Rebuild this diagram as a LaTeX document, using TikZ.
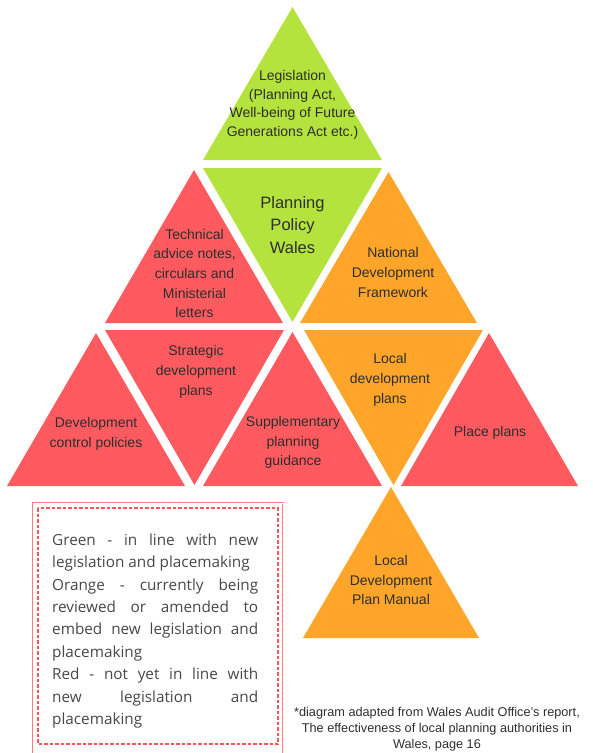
\documentclass[tikz,border=0pt]{standalone}
\usepackage{fontspec}
\setmainfont{Liberation Sans}
\newfontfamily\legendfont{Open Sans}
\usepackage{xcolor}
\definecolor{limegreen}{HTML}{B3E33C}
\definecolor{coral}{HTML}{FF5A5F}
\definecolor{amber}{HTML}{FFA52A}
\definecolor{inktext}{HTML}{2E2E2E}
\definecolor{legendgrey}{HTML}{474747}
\tikzstyle{greenTri}=[fill=limegreen]
\tikzstyle{orangeTri}=[fill=amber]
\tikzstyle{redTri}=[fill=coral]
\tikzstyle{tritext}=[align=center, text=inktext, inner sep=0pt, font=\fontsize{14}{19.7}\selectfont]
\tikzstyle{boxouter}=[draw=coral!80, line width=0.8pt, double, double distance=1pt]
\tikzstyle{boxinner}=[draw=coral!95!red, line width=2.6pt, dash pattern=on 3.5pt off 2pt]

\begin{document}
\begin{tikzpicture}[x=1pt, y=-1pt]
    \useasboundingbox (0,0) rectangle (593,753);

    % top two rows
    \fill[greenTri]  (203,160) -- (292.5,7) -- (382,160) -- cycle;
    \fill[greenTri]  (203,168) -- (382,168) -- (292.5,322) -- cycle;
    \fill[redTri]    (105,323) -- (194,170) -- (283,323) -- cycle;
    \fill[orangeTri] (300,323) -- (388.5,172) -- (477,323) -- cycle;

    % third row
    \fill[redTri]    (7,486) -- (96,333) -- (185,486) -- cycle;
    \fill[redTri]    (105,330) -- (284,330) -- (194.5,485) -- cycle;
    \fill[redTri]    (203,486) -- (292.5,332) -- (382,486) -- cycle;
    \fill[orangeTri] (304,330) -- (483,330) -- (393.5,485) -- cycle;
    \fill[redTri]    (401,486) -- (489,333) -- (578,486) -- cycle;

    % bottom
    \fill[orangeTri] (303,638) -- (391,487) -- (479,638) -- cycle;

    \node[tritext, font=\fontsize{14}{18.7}\selectfont] (legislation) at (292.5,105) {Legislation\\(Planning Act,\\Well-being of Future\\Generations Act etc.)};
    \node[tritext, font=\fontsize{16.5}{22.5}\selectfont] (ppw) at (292.5,225) {Planning\\Policy\\Wales};
    \node[tritext] (tans) at (194.5,273.5) {Technical\\advice notes,\\circulars and\\Ministerial\\letters};
    \node[tritext] (ndf) at (393,272.5) {National\\Development\\Framework};
    \node[tritext] (dcp) at (96,434) {Development\\control policies};
    \node[tritext] (sdp) at (196,372) {Strategic\\development\\plans};
    \node[tritext] (spg) at (293,442.5) {Supplementary\\planning\\guidance};
    \node[tritext] (ldp) at (390,380) {Local\\development\\plans};
    \node[tritext] (place) at (490,433) {Place plans};
    \node[tritext] (manual) at (391,580) {Local\\Development\\Plan Manual};

    % key
    \draw[boxouter] (33,503) rectangle (283,756);
    \draw[boxinner] (38,508) rectangle (278,744);
    \node[anchor=north west, inner sep=0pt, text width=206pt, align=justify, text=legendgrey,
          font=\legendfont\fontsize{15.3}{22.4}\selectfont] (key) at (52,533.5)
        {\parindent=0pt\hyphenpenalty=10000\tolerance=10000
         Green - in line with new\linebreak legislation and placemaking\par
         Orange - currently being\linebreak reviewed or amended to\linebreak embed new legislation and\linebreak placemaking\par
         Red - not yet in line with\linebreak new legislation and\linebreak placemaking};

    \node[align=center, inner sep=0pt, text=inktext, font=\fontsize{12.7}{16}\selectfont] (source) at (437,729)
        {*diagram adapted from Wales Audit Office's report,\\The effectiveness of local planning authorities in\\Wales, page 16};
\end{tikzpicture}
\end{document}
